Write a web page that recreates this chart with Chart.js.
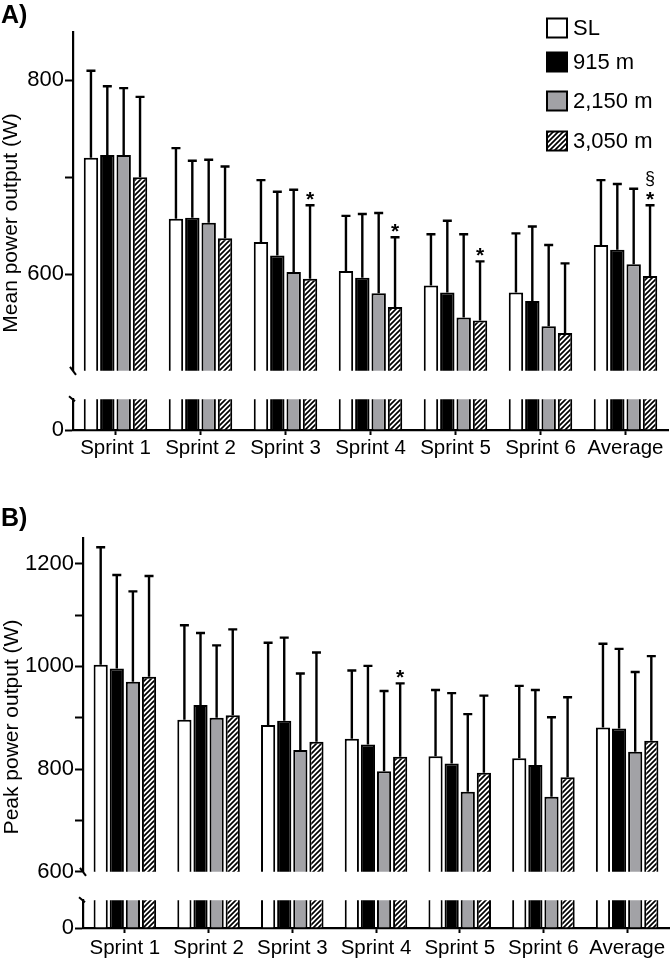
<!DOCTYPE html>
<html>
<head>
<meta charset="utf-8">
<script src="https://cdn.jsdelivr.net/npm/chart.js@4.4.1/dist/chart.umd.min.js"></script>
<style>
  body { margin: 0; background: #fff; width: 671px; height: 960px; position: relative; overflow: hidden }
  canvas { position: absolute; left: 0 }
</style>
</head>
<body>
<canvas id="aTop" width="671" height="385" style="top:0px"></canvas>
<canvas id="aBottom" width="671" height="85" style="top:385px"></canvas>
<canvas id="bTop" width="671" height="406" style="top:480px"></canvas>
<canvas id="bBottom" width="671" height="74" style="top:886px"></canvas>
<script>
Chart.defaults.font.family = "'Liberation Sans', Arial, sans-serif"
Chart.defaults.color = '#000'

const sprints = ['Sprint 1', 'Sprint 2', 'Sprint 3', 'Sprint 4', 'Sprint 5', 'Sprint 6', 'Average']
const groups = ['SL', '915 m', '2,150 m', '3,050 m']

// A) mean power output (W), mean and SD
const meanSL = [720, 657, 633, 603, 588, 581, 630]
const mean915 = [723, 658, 619, 596, 581, 572, 625]
const mean2150 = [723, 653, 602, 580, 555, 546, 610]
const mean3050 = [700, 637, 595, 566, 552, 539, 598]
const meanSdSL = [90, 73, 64, 57, 53, 61, 67]
const meanSd915 = [71, 59, 66, 66, 74, 77, 68]
const meanSd2150 = [69, 65, 85, 83, 86, 84, 78]
const meanSd3050 = [83, 74, 76, 72, 61, 72, 73]

// B) peak power output (W), mean and SD
const peakSL = [1003, 896, 886, 859, 825, 821, 881]
const peak915 = [996, 925, 894, 848, 811, 808, 879]
const peak2150 = [970, 900, 837, 796, 756, 746, 834]
const peak3050 = [980, 905, 853, 824, 793, 784, 855]
const peakSdSL = [229, 184, 160, 133, 129, 141, 163]
const peakSd915 = [182, 140, 162, 153, 137, 146, 155]
const peakSd2150 = [176, 141, 149, 156, 151, 155, 155]
const peakSd3050 = [196, 167, 174, 143, 150, 156, 165]

// axis ticks (upper segments) and which of them carry a label
const meanTicks = [600, 700, 800]
const meanTickLabels = [600, 800]
const peakTicks = [600, 700, 800, 900, 1000, 1100, 1200]
const peakTickLabels = [600, 800, 1000, 1200]

// significance marks: sprint index, group index, symbol
const meanMarks = [
    { sprint: 2, group: 3, text: '*' },
    { sprint: 3, group: 3, text: '*' },
    { sprint: 4, group: 3, text: '*' },
    { sprint: 6, group: 3, text: '*' },
    { sprint: 6, group: 3, text: '§', level: 1 }
]
const peakMarks = [
    { sprint: 3, group: 3, text: '*' }
]

const makeHatch = () => {
    const c = document.createElement('canvas')
    c.width = 5
    c.height = 5
    const g = c.getContext('2d')
    g.fillStyle = '#fff'
    g.fillRect(0, 0, 5, 5)
    g.strokeStyle = '#000'
    g.lineWidth = 1.7
    g.beginPath()
    g.moveTo(-1, 6); g.lineTo(6, -1)
    g.moveTo(-1, 1); g.lineTo(1, -1)
    g.moveTo(4, 6); g.lineTo(6, 4)
    g.stroke()
    return g.createPattern(c, 'repeat')
}

const fills = ['#ffffff', '#000000', '#a2a2a6', makeHatch()]

const makeDatasets = series => series.map((values, i) => ({
    label: groups[i],
    data: values,
    backgroundColor: fills[i],
    borderColor: '#000',
    borderWidth: 2,
    clip: 0,
    barPercentage: 0.88,
    categoryPercentage: 0.77
}))

const errorBars = {
    id: 'errorBars',
    afterDatasetsDraw(chart, args, opts) {
        if (!opts.sd) return
        const { ctx } = chart
        const y = chart.scales.y
        const capOf = (i, j) => y.getPixelForValue(chart.data.datasets[i].data[j] + opts.sd[i][j])
        ctx.save()
        ctx.strokeStyle = '#000'
        ctx.lineWidth = 2.4
        opts.sd.forEach((sds, i) => {
            chart.getDatasetMeta(i).data.forEach((bar, j) => {
                const top = capOf(i, j)
                ctx.beginPath()
                ctx.moveTo(bar.x, bar.y)
                ctx.lineTo(bar.x, top)
                ctx.moveTo(bar.x - 4.5, top)
                ctx.lineTo(bar.x + 4.5, top)
                ctx.stroke()
            })
        })
        ctx.fillStyle = '#000'
        ctx.textAlign = 'center'
        ctx.textBaseline = 'alphabetic'
        opts.marks.forEach(m => {
            const bar = chart.getDatasetMeta(m.group).data[m.sprint]
            const top = capOf(m.group, m.sprint)
            if (m.level) {
                ctx.font = "18px 'Liberation Sans', Arial"
                ctx.fillText(m.text, bar.x, top - 21)
            } else {
                ctx.font = "bold 21px 'Liberation Sans', Arial"
                ctx.fillText(m.text, bar.x, top + 1)
            }
        })
        ctx.restore()
    }
}

const panelText = {
    id: 'panelText',
    afterDraw(chart, args, opts) {
        const { ctx, chartArea } = chart
        ctx.save()
        ctx.fillStyle = '#000'
        ctx.strokeStyle = '#000'
        ctx.lineWidth = 2
        // axis break mark
        if (opts.breakEdge === 'bottom') {
            ctx.beginPath()
            ctx.moveTo(chartArea.left - 3, chartArea.bottom - 4)
            ctx.lineTo(chartArea.left + 3, chartArea.bottom + 4)
            ctx.stroke()
        }
        if (opts.breakEdge === 'top') {
            ctx.beginPath()
            ctx.moveTo(chartArea.left - 4, chartArea.top - 3)
            ctx.lineTo(chartArea.left + 2, chartArea.top + 2)
            ctx.stroke()
        }
        if (opts.panel) {
            ctx.font = "bold 25px 'Liberation Sans', Arial"
            ctx.textBaseline = 'middle'
            ctx.textAlign = 'left'
            ctx.fillText(opts.panel, 1, opts.panelY)
            ctx.translate(opts.titleX, opts.titleY)
            ctx.rotate(-Math.PI / 2)
            ctx.font = "21px 'Liberation Sans', Arial"
            ctx.textAlign = 'center'
            ctx.fillText(opts.title, 0, 0)
        }
        ctx.restore()
    }
}

const boxLegend = {
    id: 'boxLegend',
    afterDraw(chart, args, opts) {
        if (!opts.show) return
        const { ctx } = chart
        const rows = [28, 62, 101, 141]
        ctx.save()
        ctx.font = "22px 'Liberation Sans', Arial"
        ctx.textBaseline = 'middle'
        ctx.textAlign = 'left'
        ctx.lineWidth = 2
        ctx.strokeStyle = '#000'
        groups.forEach((name, i) => {
            ctx.fillStyle = fills[i]
            ctx.fillRect(547, rows[i] - 9.5, 20, 19)
            ctx.strokeRect(547, rows[i] - 9.5, 20, 19)
            ctx.fillStyle = '#000'
            ctx.fillText(name, 573, rows[i] + 1)
        })
        ctx.restore()
    }
}

const upperPart = (id, cfg) => new Chart(id, {
    type: 'bar',
    data: { labels: sprints, datasets: makeDatasets(cfg.series) },
    options: {
        responsive: false,
        animation: false,
        layout: { padding: cfg.padding },
        scales: {
            x: { display: false },
            y: {
                min: cfg.min,
                max: cfg.max,
                afterFit: s => { s.width = cfg.axisWidth },
                afterBuildTicks: s => { s.ticks = cfg.ticks.map(value => ({ value })) },
                ticks: {
                    font: { size: 22 },
                    padding: 1,
                    autoSkip: false,
                    callback: v => cfg.tickLabels.includes(v) ? String(v) : ''
                },
                grid: { drawOnChartArea: false, tickLength: 8, tickColor: '#000', tickWidth: 2 },
                border: { color: '#000', width: 2.2 }
            }
        },
        plugins: {
            legend: { display: false },
            tooltip: { enabled: false },
            errorBars: { sd: cfg.sd, marks: cfg.marks },
            panelText: cfg.text,
            boxLegend: { show: cfg.legend }
        }
    },
    plugins: [errorBars, panelText, boxLegend]
})

const lowerPart = (id, cfg) => new Chart(id, {
    type: 'bar',
    data: { labels: sprints, datasets: makeDatasets(cfg.series) },
    options: {
        responsive: false,
        animation: false,
        layout: { padding: cfg.padding },
        scales: {
            x: {
                afterFit: s => { s.height = cfg.xHeight },
                ticks: { font: { size: 20.5 }, padding: cfg.labelPad, autoSkip: false, maxRotation: 0 },
                grid: { offset: false, drawOnChartArea: false, tickLength: 5, tickColor: '#000', tickWidth: 2 },
                border: { color: '#000', width: 2.2 }
            },
            y: {
                min: 0,
                max: 50,
                afterFit: s => { s.width = cfg.axisWidth },
                afterBuildTicks: s => { s.ticks = [{ value: 0 }] },
                ticks: { font: { size: 22 }, padding: 1 },
                grid: { drawOnChartArea: false, tickLength: 8, tickColor: '#000', tickWidth: 2 },
                border: { color: '#000', width: 2.2 }
            }
        },
        plugins: {
            legend: { display: false },
            tooltip: { enabled: false },
            panelText: { breakEdge: 'top' }
        }
    },
    plugins: [panelText]
})

const meanSeries = [meanSL, mean915, mean2150, mean3050]
const peakSeries = [peakSL, peak915, peak2150, peak3050]

upperPart('aTop', {
    series: meanSeries,
    sd: [meanSdSL, meanSd915, meanSd2150, meanSd3050],
    marks: meanMarks,
    min: 500, max: 850,
    ticks: meanTicks, tickLabels: meanTickLabels,
    axisWidth: 73,
    padding: { top: 32, bottom: 6, right: 3, left: 0 },
    legend: true,
    text: { breakEdge: 'bottom', panel: 'A)', panelY: 16, title: 'Mean power output (W)', titleX: 11, titleY: 223 }
})
lowerPart('aBottom', {
    series: meanSeries,
    axisWidth: 73,
    xHeight: 40,
    labelPad: 1,
    padding: { top: 6, bottom: 0, right: 3, left: 0 }
})

upperPart('bTop', {
    series: peakSeries,
    sd: [peakSdSL, peakSd915, peakSd2150, peakSd3050],
    marks: peakMarks,
    min: 600, max: 1250,
    ticks: peakTicks, tickLabels: peakTickLabels,
    axisWidth: 83,
    padding: { top: 58, bottom: 6, right: 2, left: 0 },
    legend: false,
    text: { breakEdge: 'bottom', panel: 'B)', panelY: 39, title: 'Peak power output (W)', titleX: 12, titleY: 247 }
})
lowerPart('bBottom', {
    series: peakSeries,
    axisWidth: 83,
    xHeight: 32,
    labelPad: 3,
    padding: { top: 6, bottom: 0, right: 2, left: 0 }
})
</script>
</body>
</html>
